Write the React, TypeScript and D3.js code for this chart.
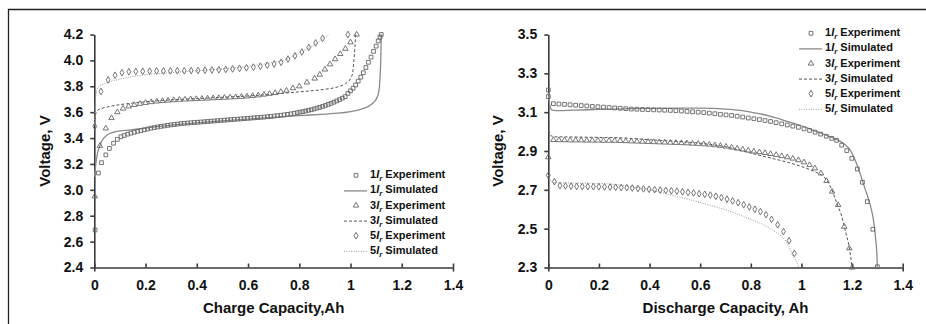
import * as d3 from 'd3';
import React, { useRef, useEffect } from 'react';

type Pt = [number, number];

// ---- charge panel (left) ----
const chargeExp1: Pt[] = [
  [0.003, 2.69], [0.016, 3.13], [0.028, 3.21], [0.045, 3.27], [0.059, 3.32], [0.075, 3.36], [0.09, 3.39],
  [0.104, 3.41], [0.117, 3.42], [0.13, 3.43], [0.143, 3.438], [0.156, 3.445], [0.169, 3.452], [0.182, 3.458],
  [0.195, 3.464], [0.208, 3.47], [0.221, 3.476], [0.234, 3.481], [0.247, 3.486], [0.26, 3.49], [0.273, 3.494],
  [0.286, 3.498], [0.299, 3.502], [0.312, 3.505], [0.325, 3.508], [0.338, 3.511], [0.351, 3.514], [0.364, 3.516],
  [0.377, 3.518], [0.39, 3.52], [0.403, 3.522], [0.416, 3.524], [0.429, 3.526], [0.442, 3.528], [0.455, 3.53],
  [0.468, 3.532], [0.481, 3.534], [0.494, 3.536], [0.507, 3.538], [0.52, 3.54], [0.533, 3.542], [0.546, 3.544],
  [0.559, 3.546], [0.572, 3.548], [0.585, 3.55], [0.598, 3.552], [0.611, 3.554], [0.624, 3.556], [0.637, 3.558],
  [0.65, 3.56], [0.663, 3.562], [0.676, 3.565], [0.689, 3.567], [0.702, 3.57], [0.715, 3.573], [0.728, 3.576],
  [0.741, 3.579], [0.754, 3.583], [0.767, 3.587], [0.78, 3.591], [0.792, 3.596], [0.803, 3.6], [0.814, 3.604],
  [0.825, 3.609], [0.836, 3.614], [0.847, 3.619], [0.858, 3.625], [0.869, 3.631], [0.88, 3.637], [0.891, 3.644],
  [0.902, 3.652], [0.913, 3.66], [0.924, 3.668], [0.935, 3.677], [0.946, 3.687], [0.957, 3.697], [0.968, 3.708],
  [0.979, 3.72], [0.99, 3.745], [1.0, 3.765], [1.01, 3.785], [1.02, 3.81], [1.03, 3.84], [1.04, 3.87],
  [1.05, 3.905], [1.06, 3.945], [1.07, 3.985], [1.08, 4.025], [1.09, 4.07], [1.1, 4.11], [1.108, 4.15],
  [1.115, 4.18], [1.12, 4.2],
];
const chargeSim1: Pt[] = [
  [0.001, 3.1], [0.006, 3.2], [0.012, 3.28], [0.02, 3.33], [0.03, 3.38], [0.045, 3.415], [0.06, 3.435],
  [0.08, 3.447], [0.1, 3.455], [0.15, 3.465], [0.2, 3.477], [0.3, 3.5], [0.4, 3.518], [0.5, 3.533],
  [0.6, 3.547], [0.7, 3.56], [0.8, 3.573], [0.9, 3.585], [0.95, 3.592], [1.0, 3.605], [1.04, 3.622],
  [1.07, 3.645], [1.09, 3.675], [1.1, 3.7], [1.108, 3.74], [1.113, 3.8], [1.116, 3.9], [1.118, 4.0],
  [1.119, 4.1], [1.12, 4.2],
];
const chargeExp3: Pt[] = [
  [0.002, 2.95], [0.022, 3.34], [0.045, 3.475], [0.067, 3.555], [0.09, 3.6], [0.112, 3.628], [0.134, 3.645],
  [0.156, 3.656], [0.178, 3.665], [0.2, 3.672], [0.222, 3.678], [0.244, 3.683], [0.266, 3.687], [0.288, 3.69],
  [0.31, 3.693], [0.332, 3.696], [0.354, 3.698], [0.376, 3.7], [0.398, 3.702], [0.42, 3.704], [0.442, 3.706],
  [0.464, 3.708], [0.486, 3.71], [0.508, 3.712], [0.53, 3.714], [0.552, 3.716], [0.574, 3.719], [0.596, 3.722],
  [0.618, 3.726], [0.64, 3.73], [0.662, 3.736], [0.684, 3.742], [0.706, 3.749], [0.728, 3.757], [0.75, 3.767],
  [0.775, 3.785], [0.8, 3.8], [0.83, 3.83], [0.86, 3.86], [0.88, 3.89], [0.9, 3.93], [0.92, 3.97],
  [0.94, 4.01], [0.96, 4.05], [0.98, 4.09], [1.0, 4.14], [1.024, 4.2],
];
const chargeSim3: Pt[] = [
  [0.0, 3.5], [0.003, 3.56], [0.008, 3.6], [0.015, 3.618], [0.03, 3.63], [0.05, 3.64], [0.1, 3.658],
  [0.15, 3.67], [0.2, 3.68], [0.3, 3.695], [0.4, 3.705], [0.5, 3.715], [0.6, 3.725], [0.7, 3.74],
  [0.8, 3.757], [0.9, 3.777], [0.95, 3.795], [0.98, 3.82], [1.0, 3.86], [1.008, 3.9], [1.013, 4.0],
  [1.017, 4.1], [1.02, 4.2],
];
const chargeExp5: Pt[] = [
  [0.002, 3.49], [0.026, 3.76], [0.054, 3.85], [0.081, 3.885], [0.108, 3.905], [0.135, 3.912], [0.162, 3.915],
  [0.189, 3.916], [0.216, 3.917], [0.243, 3.918], [0.27, 3.918], [0.297, 3.919], [0.324, 3.92], [0.351, 3.92],
  [0.378, 3.921], [0.405, 3.922], [0.432, 3.924], [0.459, 3.926], [0.486, 3.928], [0.513, 3.93], [0.54, 3.934],
  [0.567, 3.938], [0.594, 3.943], [0.621, 3.948], [0.648, 3.955], [0.675, 3.963], [0.702, 3.972], [0.729, 3.985],
  [0.756, 4.01], [0.783, 4.035], [0.81, 4.065], [0.837, 4.1], [0.864, 4.135], [0.891, 4.17], [0.99, 4.2],
];
const chargeSim5: Pt[] = [
  [0.0, 3.5], [0.003, 3.65], [0.007, 3.74], [0.012, 3.78], [0.02, 3.8], [0.04, 3.82], [0.07, 3.84],
  [0.1, 3.855], [0.15, 3.875], [0.2, 3.89], [0.3, 3.905], [0.4, 3.92], [0.5, 3.935], [0.6, 3.955],
  [0.7, 3.985], [0.75, 4.008], [0.8, 4.06], [0.85, 4.11], [0.88, 4.15], [0.9, 4.18], [0.915, 4.2],
];

// ---- discharge panel (right) ----
const dischargeExp1: Pt[] = [
  [0.0, 3.214], [0.0, 3.18], [0.02, 3.144], [0.042, 3.142], [0.064, 3.14], [0.086, 3.138], [0.108, 3.136],
  [0.13, 3.134], [0.152, 3.132], [0.174, 3.13], [0.196, 3.128], [0.218, 3.126], [0.24, 3.124], [0.262, 3.122],
  [0.284, 3.12], [0.306, 3.118], [0.328, 3.116], [0.35, 3.115], [0.372, 3.114], [0.394, 3.113], [0.416, 3.112],
  [0.438, 3.111], [0.46, 3.11], [0.482, 3.109], [0.504, 3.108], [0.526, 3.106], [0.548, 3.104], [0.57, 3.102],
  [0.592, 3.1], [0.614, 3.098], [0.636, 3.095], [0.658, 3.092], [0.68, 3.089], [0.702, 3.086], [0.724, 3.083],
  [0.746, 3.079], [0.768, 3.075], [0.79, 3.07], [0.812, 3.066], [0.834, 3.062], [0.856, 3.057], [0.878, 3.052],
  [0.9, 3.046], [0.922, 3.04], [0.944, 3.034], [0.966, 3.028], [0.988, 3.022], [1.01, 3.014], [1.032, 3.006],
  [1.054, 2.997], [1.076, 2.987], [1.098, 2.976], [1.12, 2.965], [1.139, 2.955], [1.159, 2.93], [1.179, 2.902],
  [1.199, 2.862], [1.221, 2.807], [1.241, 2.739], [1.26, 2.639], [1.282, 2.497], [1.3, 2.304],
];
const dischargeSim1: Pt[] = [
  [0.0, 3.2], [0.003, 3.16], [0.008, 3.125], [0.015, 3.11], [0.03, 3.108], [0.1, 3.11], [0.2, 3.114],
  [0.3, 3.117], [0.4, 3.12], [0.5, 3.121], [0.6, 3.121], [0.65, 3.12], [0.7, 3.116], [0.75, 3.11],
  [0.8, 3.1], [0.85, 3.088], [0.9, 3.07], [0.95, 3.05], [1.0, 3.03], [1.05, 3.005], [1.1, 2.98],
  [1.14, 2.958], [1.17, 2.935], [1.19, 2.91], [1.21, 2.86], [1.23, 2.79], [1.25, 2.71], [1.27, 2.63],
  [1.285, 2.54], [1.293, 2.45], [1.298, 2.37], [1.3, 2.3],
];
const dischargeExp3: Pt[] = [
  [0.0, 2.868], [0.02, 2.957], [0.042, 2.956], [0.064, 2.956], [0.086, 2.955], [0.108, 2.955], [0.13, 2.955],
  [0.152, 2.954], [0.174, 2.954], [0.196, 2.954], [0.218, 2.953], [0.24, 2.953], [0.262, 2.953], [0.284, 2.952],
  [0.306, 2.951], [0.328, 2.95], [0.35, 2.949], [0.372, 2.948], [0.394, 2.947], [0.416, 2.946], [0.438, 2.945],
  [0.46, 2.944], [0.482, 2.943], [0.504, 2.942], [0.526, 2.941], [0.548, 2.94], [0.57, 2.938], [0.592, 2.937],
  [0.614, 2.935], [0.636, 2.933], [0.658, 2.93], [0.68, 2.927], [0.702, 2.923], [0.724, 2.918], [0.746, 2.913],
  [0.768, 2.908], [0.79, 2.903], [0.812, 2.898], [0.834, 2.894], [0.856, 2.89], [0.878, 2.885], [0.9, 2.88],
  [0.922, 2.874], [0.944, 2.868], [0.966, 2.861], [0.988, 2.853], [1.01, 2.842], [1.032, 2.828], [1.053, 2.811],
  [1.077, 2.785], [1.099, 2.746], [1.121, 2.691], [1.145, 2.622], [1.169, 2.51], [1.189, 2.399], [1.2, 2.3],
];
const dischargeSim3: Pt[] = [
  [0.0, 3.008], [0.005, 2.99], [0.012, 2.978], [0.03, 2.973], [0.1, 2.972], [0.2, 2.97], [0.3, 2.967],
  [0.4, 2.958], [0.5, 2.95], [0.6, 2.94], [0.65, 2.932], [0.7, 2.922], [0.75, 2.906], [0.8, 2.889],
  [0.85, 2.873], [0.9, 2.857], [0.95, 2.84], [1.0, 2.82], [1.05, 2.795], [1.08, 2.775], [1.1, 2.75],
  [1.12, 2.7], [1.14, 2.63], [1.16, 2.56], [1.175, 2.48], [1.188, 2.41], [1.195, 2.35], [1.2, 2.3],
];
const dischargeExp5: Pt[] = [
  [0.0, 2.775], [0.024, 2.742], [0.046, 2.722], [0.068, 2.72], [0.09, 2.719], [0.112, 2.718], [0.134, 2.717],
  [0.156, 2.717], [0.178, 2.716], [0.2, 2.716], [0.222, 2.715], [0.244, 2.714], [0.266, 2.713], [0.288, 2.712],
  [0.31, 2.711], [0.332, 2.709], [0.354, 2.707], [0.376, 2.705], [0.398, 2.703], [0.42, 2.701], [0.442, 2.699],
  [0.464, 2.697], [0.486, 2.695], [0.508, 2.693], [0.53, 2.69], [0.552, 2.687], [0.574, 2.684], [0.596, 2.68],
  [0.618, 2.677], [0.64, 2.673], [0.662, 2.667], [0.684, 2.66], [0.706, 2.652], [0.728, 2.643], [0.75, 2.634],
  [0.772, 2.623], [0.794, 2.612], [0.816, 2.6], [0.838, 2.588], [0.86, 2.572], [0.882, 2.548], [0.906, 2.52],
  [0.929, 2.485], [0.951, 2.438], [0.972, 2.373],
];
const dischargeSim5: Pt[] = [
  [0.0, 2.776], [0.006, 2.755], [0.013, 2.742], [0.033, 2.736], [0.1, 2.735], [0.2, 2.733], [0.3, 2.722],
  [0.4, 2.7], [0.5, 2.668], [0.6, 2.635], [0.7, 2.597], [0.8, 2.548], [0.85, 2.52], [0.9, 2.48],
  [0.93, 2.45], [0.95, 2.41], [0.968, 2.356], [0.98, 2.33], [0.99, 2.3],
];

const capacityTicks = [0, 0.2, 0.4, 0.6, 0.8, 1, 1.2, 1.4];
const chargeVoltTicks = [2.4, 2.6, 2.8, 3.0, 3.2, 3.4, 3.6, 3.8, 4.0, 4.2];
const dischargeVoltTicks = [2.3, 2.5, 2.7, 2.9, 3.1, 3.3, 3.5];
const rates = ['1', '3', '5'];

const FONT = '"Liberation Sans", Arial, Helvetica, sans-serif';
const W = 926;
const H = 324;

function drawPanel(svg, cfg) {
  const x = d3.scaleLinear().domain([0, 1.4]).range([cfg.x0, cfg.x1]);
  const y = d3.scaleLinear().domain([cfg.yTicks[0], cfg.yTicks[cfg.yTicks.length - 1]]).range([267.5, 34.5]);
  const g = svg.append('g');

  const xAxis = d3.axisBottom(x).tickValues(capacityTicks).tickFormat(d3.format('~g'))
    .tickSizeInner(-4).tickSizeOuter(4).tickPadding(13);
  const yAxis = d3.axisLeft(y).tickValues(cfg.yTicks).tickFormat(d3.format('.1f'))
    .tickSizeInner(4).tickSizeOuter(0).tickPadding(7);

  const gx = g.append('g').attr('transform', `translate(0,${y.range()[0]})`).call(xAxis);
  const gy = g.append('g').attr('transform', `translate(${cfg.x0},0)`).call(yAxis);
  [gx, gy].forEach(a => {
    a.attr('font-family', FONT).attr('font-size', 14).attr('font-weight', 'bold');
    a.select('.domain').attr('stroke', '#3a3a3a').attr('stroke-width', 1.6);
    a.selectAll('.tick line').attr('stroke', '#3a3a3a').attr('stroke-width', 1.6);
    a.selectAll('.tick text').attr('fill', '#111');
  });

  const line = d3.line<Pt>().x(d => x(d[0])).y(d => y(d[1])).curve(d3.curveMonotoneX);
  const lineStyles = [
    { stroke: '#8a8a8a', width: 1.3, dash: null },
    { stroke: '#555', width: 1, dash: '3,2' },
    { stroke: '#9a9a9a', width: 1, dash: '1,1.4' },
  ];
  const sym = [
    d3.symbol().type(d3.symbolSquare).size(14),
    d3.symbol().type(d3.symbolTriangle).size(13),
    d3.symbol().type(d3.symbolDiamond).size(13),
  ];

  cfg.sims.forEach((s, i) => {
    g.append('path').datum(s).attr('d', line).attr('fill', 'none')
      .attr('stroke', lineStyles[i].stroke).attr('stroke-width', lineStyles[i].width)
      .attr('stroke-dasharray', lineStyles[i].dash);
  });
  cfg.exps.forEach((s, i) => {
    g.append('g').selectAll('path').data(s).enter().append('path')
      .attr('transform', d => `translate(${x(d[0])},${y(d[1])})`)
      .attr('d', sym[i]).attr('fill', 'none').attr('stroke', '#666').attr('stroke-width', 0.9);
  });

  // legend
  const lg = g.append('g').attr('font-family', FONT).attr('font-size', 11).attr('font-weight', 'bold').attr('fill', '#111');
  rates.forEach((r, i) => {
    ['Experiment', 'Simulated'].forEach((label, j) => {
      const cy = cfg.legY + (i * 2 + j) * 15.1;
      if (j === 0) {
        lg.append('path').attr('transform', `translate(${cfg.legX - 14},${cy + 1})`).attr('d', sym[i])
          .attr('fill', 'none').attr('stroke', '#666').attr('stroke-width', 0.9);
      } else {
        lg.append('line').attr('x1', cfg.legX - 26).attr('x2', cfg.legX - 3).attr('y1', cy + 1.5).attr('y2', cy + 1.5)
          .attr('stroke', lineStyles[i].stroke).attr('stroke-width', lineStyles[i].width)
          .attr('stroke-dasharray', lineStyles[i].dash);
      }
      const t = lg.append('text').attr('x', cfg.legX).attr('y', cy + 4);
      t.append('tspan').text(r);
      t.append('tspan').attr('font-style', 'italic').text('I');
      t.append('tspan').attr('font-style', 'italic').attr('font-size', 8).attr('dy', 3).text('r');
      t.append('tspan').attr('dy', -3).text(' ' + label);
    });
  });

  // titles
  g.append('text').attr('x', (cfg.x0 + cfg.x1) / 2).attr('y', 313).attr('text-anchor', 'middle')
    .attr('font-family', FONT).attr('font-size', 15).attr('font-weight', 'bold').attr('fill', '#111')
    .text(cfg.xTitle);
  g.append('text').attr('transform', `translate(${cfg.yTitleX},151) rotate(-90)`).attr('text-anchor', 'middle')
    .attr('font-family', FONT).attr('font-size', 15).attr('font-weight', 'bold').attr('fill', '#111')
    .text('Voltage, V');
}

export default function App() {
  const ref = useRef(null);

  useEffect(() => {
    const svg = d3.select(ref.current);
    svg.selectAll('*').remove();
    svg.append('rect').attr('width', W).attr('height', H).attr('fill', '#fff');
    // frame
    svg.append('path').attr('d', `M8.5,${H} V9.5 H${W}`).attr('fill', 'none').attr('stroke', '#222').attr('stroke-width', 1.3);

    drawPanel(svg, {
      x0: 94.3, x1: 453, yTicks: chargeVoltTicks,
      sims: [chargeSim1, chargeSim3, chargeSim5], exps: [chargeExp1, chargeExp3, chargeExp5],
      legX: 370, legY: 174.3, xTitle: 'Charge Capacity,Ah', yTitleX: 50,
    });
    drawPanel(svg, {
      x0: 548.3, x1: 902.7, yTicks: dischargeVoltTicks,
      sims: [dischargeSim1, dischargeSim3, dischargeSim5], exps: [dischargeExp1, dischargeExp3, dischargeExp5],
      legX: 825, legY: 32.3, xTitle: 'Discharge Capacity, Ah', yTitleX: 503,
    });
  }, []);

  return (
    <svg ref={ref} width={W} height={H} style={{ position: 'absolute', left: 0, top: 0 }} />
  );
}
